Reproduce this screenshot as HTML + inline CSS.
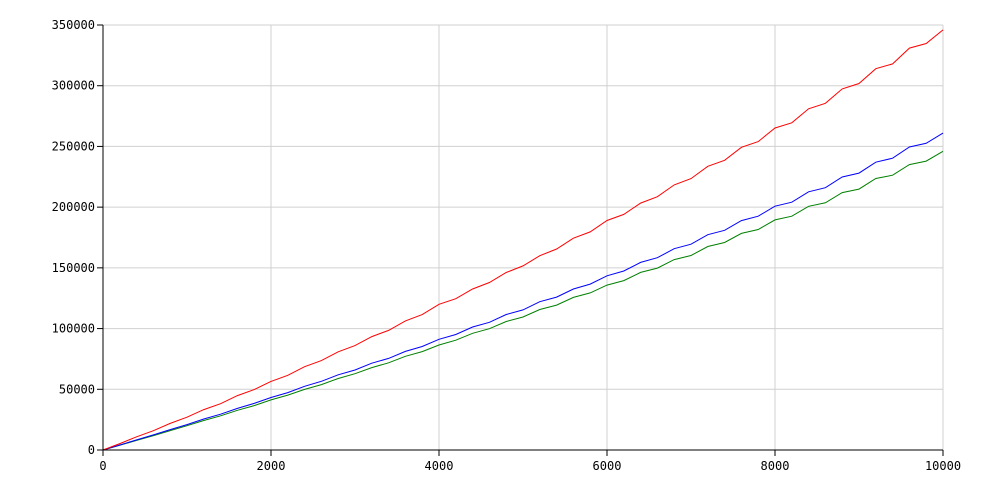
<!DOCTYPE html>
<html><head><meta charset="utf-8"><style>
html,body{margin:0;padding:0;background:#fff;width:1000px;height:500px;overflow:hidden}
svg text{font-family:"DejaVu Sans Mono","Liberation Mono",monospace;font-size:12px;fill:#000}
</style></head><body>
<svg id="chart" width="1000" height="500" xmlns="http://www.w3.org/2000/svg">
<g id="grid"></g>
<g id="series"></g>
<g id="axes"></g>
</svg>
<script>
const xValues = [0,200,400,600,800,1000,1200,1400,1600,1800,2000,2200,2400,2600,2800,3000,3200,3400,3600,3800,4000,4200,4400,4600,4800,5000,5200,5400,5600,5800,6000,6200,6400,6600,6800,7000,7200,7400,7600,7800,8000,8200,8400,8600,8800,9000,9200,9400,9600,9800,10000];
const redValues = [0,5300,10900,15900,21900,27000,33300,38100,44800,49700,56500,61500,68600,73600,80900,86000,93400,98500,106300,111500,120000,124600,132600,137900,146200,151600,160000,165500,174400,179600,189000,194000,203300,208600,218300,223500,233600,238600,249300,254000,265200,269500,281000,285500,297400,301800,314000,318000,331000,334800,346000];
const blueValues = [0,4100,8300,12400,16800,20900,25500,29500,34300,38400,43200,47300,52500,56600,61900,65900,71500,75400,81200,85200,91200,95100,101300,105200,111600,115400,122100,125900,132600,136600,143500,147400,154500,158400,165800,169500,177300,180900,188900,192500,200800,204100,212600,216000,224800,228000,237000,240300,249500,252600,261000];
const greenValues = [0,3900,7900,11900,16000,20000,24300,28200,32700,36600,41300,45200,49900,53900,58900,62800,67900,71800,77200,81000,86500,90400,96100,99900,105800,109500,115700,119300,125700,129400,135800,139500,146300,149800,156800,160200,167600,170900,178400,181600,189500,192500,200700,203600,212000,214900,223600,226300,235000,237900,246000];
const xTicks = [0,2000,4000,6000,8000,10000];
const yTicks = [0,50000,100000,150000,200000,250000,300000,350000];

const X0=103,X1=943,Y0=450,Y1=25;
const sx=v=>X0+(v-0)/(10000-0)*(X1-X0);
const sy=v=>Y0-(v-0)/(350000-0)*(Y0-Y1);
const NS="http://www.w3.org/2000/svg";
const grid=document.getElementById('grid'),axes=document.getElementById('axes'),ser=document.getElementById('series');
function mk(tag,attrs,parent){const e=document.createElementNS(NS,tag);for(const k in attrs)e.setAttribute(k,attrs[k]);parent.appendChild(e);return e;}

yTicks.forEach(t=>{
  const y=sy(t);
  const gl=mk('line',{x1:X0,x2:X1,y1:y,y2:y,stroke:'#d0d0d0','stroke-width':1},grid);
  
  
  const tk=mk('line',{x1:X0-6,x2:X0,y1:y,y2:y,stroke:'#000','stroke-width':1},axes);
  
  
  const tx=mk('text',{x:X0-8,y:y+4,'text-anchor':'end'},axes);
  tx.textContent=t;
  
  
});
xTicks.forEach(t=>{
  const x=sx(t);
  if(t>0){
    const gl=mk('line',{x1:x,x2:x,y1:Y1,y2:Y0,stroke:'#d0d0d0','stroke-width':1},grid);
    
    
  }
  const tk=mk('line',{x1:x,x2:x,y1:Y0,y2:Y0+6,stroke:'#000','stroke-width':1},axes);
  
  
  const tx=mk('text',{x:x,y:Y0+20,'text-anchor':'middle'},axes);
  tx.textContent=t;
  
  
});
const ya=mk('line',{x1:X0,x2:X0,y1:Y1,y2:Y0,stroke:'#000','stroke-width':1},axes);


const xa=mk('line',{x1:X0,x2:X1,y1:Y0,y2:Y0,stroke:'#000','stroke-width':1},axes);



function drawLine(vals,color,name){
  const d=vals.map((v,i)=>(i?'L':'M')+sx(xValues[i]).toFixed(1)+','+sy(v).toFixed(1)).join(' ');
  const p=mk('path',{d:d,fill:'none',stroke:color,'stroke-width':1},ser);
  
  
}
drawLine(greenValues,'#008000','green-series-line');
drawLine(blueValues,'#0000ff','blue-series-line');
drawLine(redValues,'#ff0000','red-series-line');
</script>
</body></html>
